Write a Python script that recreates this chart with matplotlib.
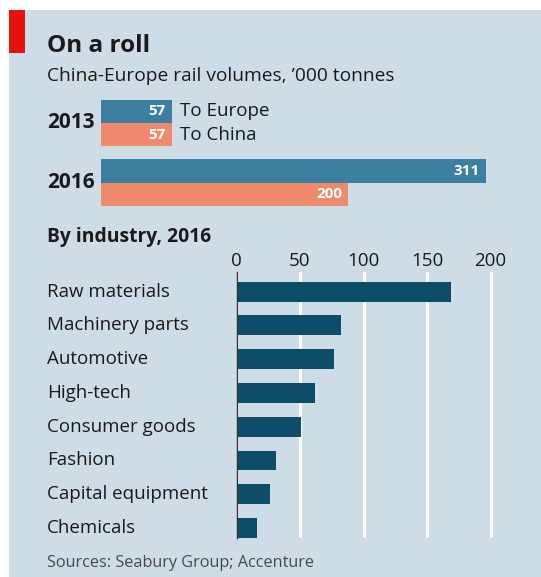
import matplotlib
matplotlib.use("Agg")
import matplotlib.pyplot as plt
from matplotlib.patches import Rectangle
import matplotlib.transforms as mtransforms

# Daten
years = ["2013", "2016"]
to_europe = [57, 311]
to_china = [57, 200]

industries = ["Raw materials", "Machinery parts", "Automotive", "High-tech",
              "Consumer goods", "Fashion", "Capital equipment", "Chemicals"]
industry_vals = [169, 82, 77, 62, 51, 31, 26, 16]
industry_ticks = [0, 50, 100, 150, 200]

# Farben
bg = "#cddce5"
blue = "#3d7fa1"
salmon = "#ef8a6c"
dark = "#0d4d6a"
red = "#e3120b"
txt = "#1a1a1a"

plt.rcParams['font.family'] = ['Open Sans', 'DejaVu Sans']

W, H = 541, 577
fig = plt.figure(figsize=(W / 100, H / 100), dpi=100)
fig.patch.set_facecolor("white")


def fx(p):
    return p / W


def fy(p):
    return 1 - p / H


# Hintergrund-Panel und roter Balken
fig.patches.append(Rectangle((fx(9), 0), 1 - fx(9), fy(10), transform=fig.transFigure,
                             facecolor=bg, edgecolor="none", zorder=-2))
fig.patches.append(Rectangle((fx(9), fy(53)), fx(16), fy(10) - fy(53), transform=fig.transFigure,
                             facecolor=red, edgecolor="none", zorder=-1))

fig.text(fx(47), fy(46), "On a roll", fontsize=17.5, fontweight="bold", color=txt, va="center")
fig.text(fx(47), fy(76), "China-Europe rail volumes, \u2019000 tonnes", fontsize=13.8, color=txt, va="center")

# Oberes Diagramm
ax1 = fig.add_axes([fx(101), fy(212.25), 1 - fx(101), fy(93.25) - fy(212.25)])
ax1.set_facecolor("none")
h = 0.387
ypos = list(range(len(years)))
ax1.barh([y - h / 2 for y in ypos], to_europe, height=h, color=blue)
ax1.barh([y + h / 2 for y in ypos], to_china, height=h, color=salmon)
ax1.set_xlim(0, (W - 101) / 1.237)
ax1.set_ylim(1.5, -0.5)
ax1.axis("off")

for y, v in zip(ypos, to_europe):
    ax1.text(v - 5, y - h / 2, str(v), ha="right", va="center", color="white",
             fontsize=11, fontweight="bold")
for y, v in zip(ypos, to_china):
    ax1.text(v - 5, y + h / 2, str(v), ha="right", va="center", color="white",
             fontsize=11, fontweight="bold")
ax1.text(to_europe[0] + 7, -h / 2, "To Europe", ha="left", va="center", color=txt, fontsize=13.5)
ax1.text(to_china[0] + 7, h / 2, "To China", ha="left", va="center", color=txt, fontsize=13.5)

trans1 = mtransforms.blended_transform_factory(fig.transFigure, ax1.transData)
for y, yr in zip(ypos, years):
    fig.text(fx(47), y, yr, transform=trans1, fontsize=15, fontweight="bold",
             color=txt, va="center")

# Unteres Diagramm
fig.text(fx(47), fy(237), "By industry, 2016", fontsize=13.9, fontweight="bold", color=txt, va="center")

ax2 = fig.add_axes([fx(236.5), fy(538), 1 - fx(236.5), fy(272) - fy(538)])
ax2.set_facecolor("none")
yy = list(range(len(industries)))
ax2.barh(yy, industry_vals, height=0.59, color=dark, zorder=3)
ax2.set_xlim(0, (W - 236.5) / 1.27)
ax2.set_ylim(7.296, -0.583)
ax2.set_xticks(industry_ticks)
ax2.xaxis.tick_top()
ax2.tick_params(axis="x", length=0, pad=1.5, labelsize=13.5, labelcolor=txt)
ax2.set_yticks([])
ax2.grid(axis="x", color="white", linewidth=2.2, zorder=1)
for s in ["top", "right", "bottom"]:
    ax2.spines[s].set_visible(False)
ax2.spines["left"].set_color("#333333")
ax2.spines["left"].set_linewidth(1)
ax2.spines["left"].set_zorder(4)

trans2 = mtransforms.blended_transform_factory(fig.transFigure, ax2.transData)
for y, name in zip(yy, industries):
    ax2.text(fx(47), y, name, transform=trans2, fontsize=13.5, color=txt, va="center", ha="left")

fig.text(fx(47), fy(563), "Sources: Seabury Group; Accenture", fontsize=11.7, color="#4a4a4a", va="center")

fig.savefig("out.png", dpi=100, facecolor=fig.get_facecolor())
